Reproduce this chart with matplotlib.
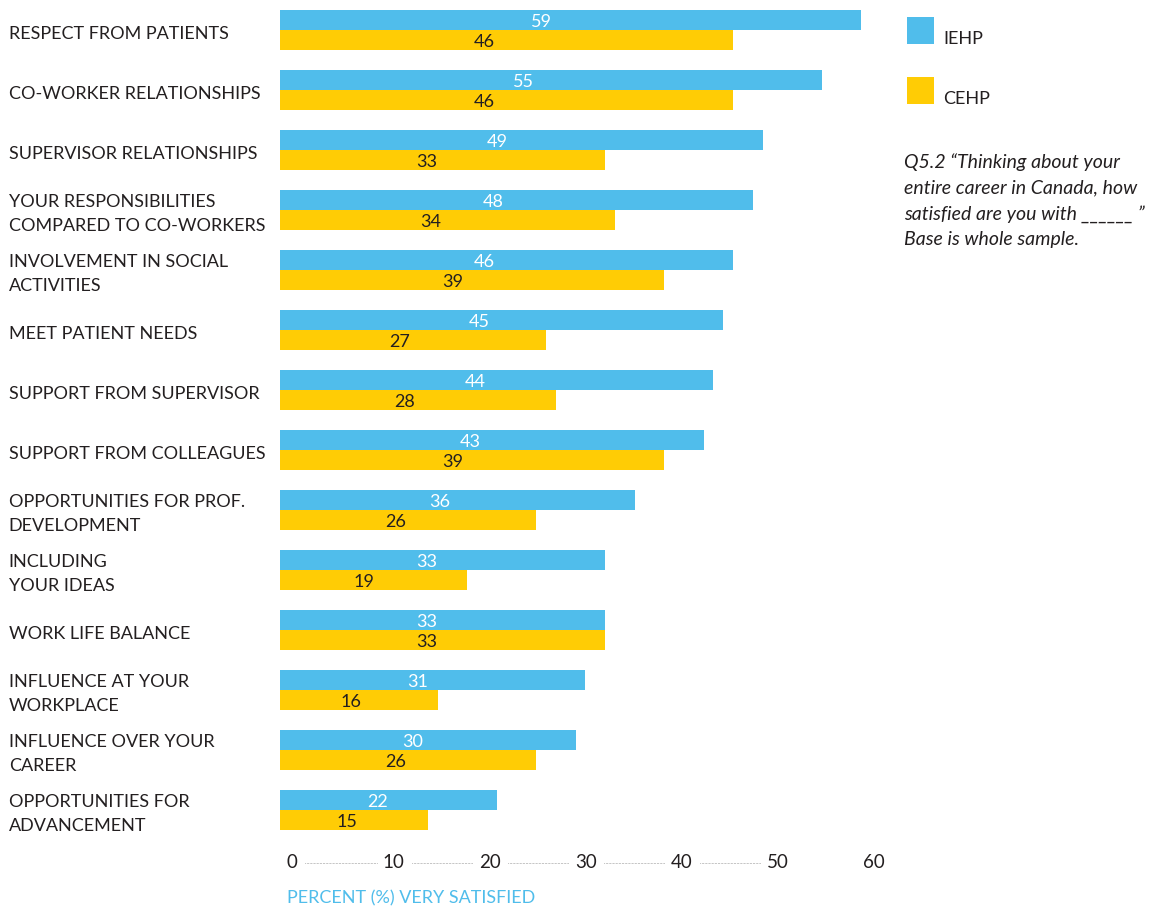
# grouped horizontal bars - IEHP vs CEHP satisfaction
# value labels sit inside the bars, x ticks are drawn by hand with dotted leaders

import numpy as np
import matplotlib.pyplot as plt

categories = [
    "RESPECT FROM PATIENTS",
    "CO-WORKER RELATIONSHIPS",
    "SUPERVISOR RELATIONSHIPS",
    "YOUR RESPONSIBILITIES\nCOMPARED TO CO-WORKERS",
    "INVOLVEMENT IN SOCIAL\nACTIVITIES",
    "MEET PATIENT NEEDS",
    "SUPPORT FROM SUPERVISOR",
    "SUPPORT FROM COLLEAGUES",
    "OPPORTUNITIES FOR PROF.\nDEVELOPMENT",
    "INCLUDING\nYOUR IDEAS",
    "WORK LIFE BALANCE",
    "INFLUENCE AT YOUR\nWORKPLACE",
    "INFLUENCE OVER YOUR\nCAREER",
    "OPPORTUNITIES FOR\nADVANCEMENT",
]
iehp = [59, 55, 49, 48, 46, 45, 44, 43, 36, 33, 33, 31, 30, 22]
cehp = [46, 46, 33, 34, 39, 27, 28, 39, 26, 19, 33, 16, 26, 15]
x_ticks = [0, 10, 20, 30, 40, 50, 60]

BLUE = "#50bdeb"
YELLOW = "#ffcc05"
TEXT = "#231f20"
FONT = "Lato"

W, H = 1159, 907
fig = plt.figure(figsize=(W / 100, H / 100), dpi=100)
fig.patch.set_facecolor("white")

# axes placed in pixels: bars start at x=280, ~9.85 px per unit,
# groups every 60px starting at y=30 (center between the two bars)
px_per_unit = 9.85
ax_left, ax_w = 280, 60 * px_per_unit
ax_top, ax_h = 0, 840
ax = fig.add_axes([ax_left / W, (H - ax_top - ax_h) / H, ax_w / W, ax_h / H])
ax.set_xlim(0, 60)
ax.set_ylim(len(categories) - 0.5, -0.5)
ax.axis("off")

y = np.arange(len(categories))
bar_h = 1 / 3
ax.barh(y - bar_h / 2, iehp, height=bar_h, color=BLUE, linewidth=0)
ax.barh(y + bar_h / 2, cehp, height=bar_h, color=YELLOW, linewidth=0)

# value labels roughly 45% along the bar, like the original
dy = 2 / 60  # nudge text down a couple of px
for i in range(len(categories)):
    ax.text(iehp[i] * 0.45, y[i] - bar_h / 2 + dy, str(iehp[i]), color="white",
            ha="center", va="center", fontsize=13, family=FONT)
    ax.text(cehp[i] * 0.45, y[i] + bar_h / 2 + dy, str(cehp[i]), color=TEXT,
            ha="center", va="center", fontsize=13, family=FONT)

# category labels at the far left of the figure
for i, lab in enumerate(categories):
    ax.text(-280 / px_per_unit + 0.9, y[i] + 4 / 60, lab, ha="left", va="center",
            fontsize=13, family=FONT, color=TEXT, linespacing=1.55,
            clip_on=False)

# hand drawn x tick labels + dotted leaders between them
# original labels are left aligned and spaced ~96px apart (a bit tighter
# than the bars), so work in px here and convert to data units
tick_y = len(categories) - 0.5 + 22 / 60
tick_left_px = [6.6 + 96.07 * k for k in range(len(x_ticks))]
for t, lp in zip(x_ticks, tick_left_px):
    ax.text(lp / px_per_unit, tick_y, str(t), ha="left", va="center", fontsize=13.5,
            family=FONT, color=TEXT, clip_on=False)
for k in range(len(x_ticks) - 2):
    label_w = 11 if x_ticks[k] < 10 else 22
    x0 = (tick_left_px[k] + label_w + 7) / px_per_unit
    x1 = (tick_left_px[k + 1] - 5.5) / px_per_unit
    ax.plot([x0, x1], [tick_y + 1 / 60] * 2, linestyle=(0, (0.5, 1.0)),
            color="#888888", linewidth=0.7, clip_on=False)

fig.text(287 / W, 1 - 898 / H, "PERCENT (%) VERY SATISFIED", color=BLUE,
         fontsize=13, family=FONT, ha="left", va="center")

# legend by hand - squares + labels
for (col, lab, top) in [(BLUE, "IEHP", 17), (YELLOW, "CEHP", 77)]:
    fig.patches.append(plt.Rectangle((907 / W, 1 - (top + 27) / H), 27 / W, 27 / H,
                                     transform=fig.transFigure, color=col, lw=0))
    fig.text(943 / W, 1 - (top + 22) / H, lab, color=TEXT, fontsize=13,
             family=FONT, ha="left", va="center")

note = ("Q5.2 \u201cThinking about your\nentire career in Canada, how\n"
        "satisfied are you with ______ \u201d\nBase is whole sample.")
fig.text(904 / W, 1 - 153 / H, note, color=TEXT, fontsize=14, style="italic",
         family=FONT, ha="left", va="top", linespacing=1.6)

fig.savefig("out.png", dpi=100)
